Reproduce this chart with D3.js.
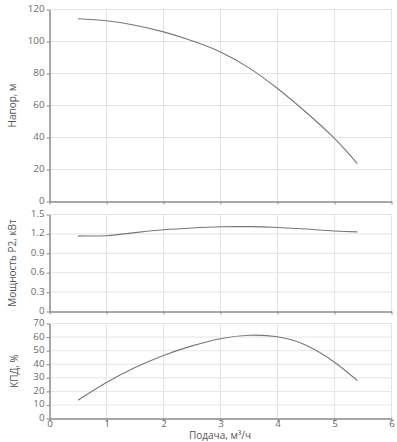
<!DOCTYPE html>
<head>
  <meta charset="utf-8">
  <style>
  body { margin: 0; background: #fff; }
  svg text { font-family: "Open Sans", sans-serif; }
  .grid line { stroke: #e3e3ea; stroke-width: 1; }
  .axis path, .axis line { stroke: #8a8a8a; }
  .axis text { fill: #6a6a6a; font-size: 9.8px; }
  .curve { fill: none; stroke: #777; stroke-width: 1.1px; }
  .title { fill: #555; font-size: 10px; }
  </style>
  <script src="https://d3js.org/d3.v7.min.js"></script>
</head>

<body>
  <svg width="397" height="442"></svg>

  <script>

  // flow, m3/h
  var flow = [0.5, 1, 1.5, 2, 2.5, 3, 3.5, 4, 4.5, 5, 5.4];
  // head, m
  var head = [114.2, 113, 110.2, 106, 100.5, 93.5, 83.5, 70.6, 55.8, 39.4, 23.7];
  // power P2, kW
  var power = [1.17, 1.172, 1.22, 1.264, 1.292, 1.31, 1.312, 1.30, 1.275, 1.244, 1.232];
  // efficiency, %
  var eff = [13.5, 26.5, 37.5, 46.5, 53.5, 58.8, 61.3, 60.2, 54, 41.5, 28];

  var xTicks = [0, 1, 2, 3, 4, 5, 6];
  var headTicks = [0, 20, 40, 60, 80, 100, 120];
  var powerTicks = [0, 0.3, 0.6, 0.9, 1.2, 1.5];
  var effTicks = [0, 10, 20, 30, 40, 50, 60, 70];

  var svg = d3.select("svg");

  var x = d3.scaleLinear().domain([0, 6]).range([49.5, 391.5]);

  var panels = [
    { vals: head, ticks: headTicks, max: 120, top: 9.5, bottom: 201.5, title: "Напор, м", tx: 12, fmt: d3.format("d") },
    { vals: power, ticks: powerTicks, max: 1.5, top: 214.5, bottom: 311.5, title: "Мощность P2, кВт", tx: 12, fmt: function(d) { return d === 0 ? "0" : d3.format(".1f")(d); } },
    { vals: eff, ticks: effTicks, max: 70, top: 323.5, bottom: 418.5, title: "КПД, %", tx: 14, fmt: d3.format("d") }
  ];

  panels.forEach(function(p, i) {
    var y = d3.scaleLinear().domain([0, p.max]).range([p.bottom, p.top]);
    var g = svg.append("g");

    // grid
    var grid = g.append("g").attr("class", "grid");
    grid.selectAll(".h").data(p.ticks.slice(1)).enter().append("line")
      .attr("x1", x(0)).attr("x2", x(6))
      .attr("y1", function(d) { return y(d); }).attr("y2", function(d) { return y(d); });
    grid.selectAll(".v").data(xTicks.slice(1)).enter().append("line")
      .attr("y1", y(0)).attr("y2", y(p.max))
      .attr("x1", function(d) { return x(d); }).attr("x2", function(d) { return x(d); });

    // axes
    var ya = g.append("g").attr("class", "axis")
      .attr("transform", "translate(" + x(0) + ",0)")
      .call(d3.axisLeft(y).tickValues(p.ticks).tickFormat(p.fmt).tickSize(3).tickPadding(2).tickSizeOuter(0));
    ya.select(".domain").attr("stroke", "#777").attr("stroke-width", 1.5);
    ya.selectAll("text").attr("dy", "0.2em");

    var xa = g.append("g").attr("class", "axis")
      .attr("transform", "translate(0," + y(0) + ")")
      .call(d3.axisBottom(x).tickValues(xTicks).tickSize(3).tickPadding(1).tickSizeOuter(0)
        .tickFormat(i === 2 ? d3.format("d") : ""));
    xa.select(".domain").attr("stroke", "#8a8a8a").attr("stroke-width", 1.5);
    xa.selectAll("text").attr("dy", "0.45em");

    // curve
    var line = d3.line()
      .x(function(d, k) { return x(flow[k]); })
      .y(function(d) { return y(d); })
      .curve(d3.curveNatural);
    g.append("path").attr("class", "curve").attr("d", line(p.vals));

    // y title
    svg.append("text").attr("class", "title")
      .attr("transform", "translate(" + p.tx + "," + ((p.top + p.bottom) / 2) + ") rotate(-90)")
      .attr("text-anchor", "middle")
      .attr("dy", "0.35em")
      .text(p.title);
  });

  svg.append("text").attr("class", "title")
    .attr("x", 220).attr("y", 439)
    .attr("text-anchor", "middle")
    .text("Подача, м³/ч");

  </script>
</body>
